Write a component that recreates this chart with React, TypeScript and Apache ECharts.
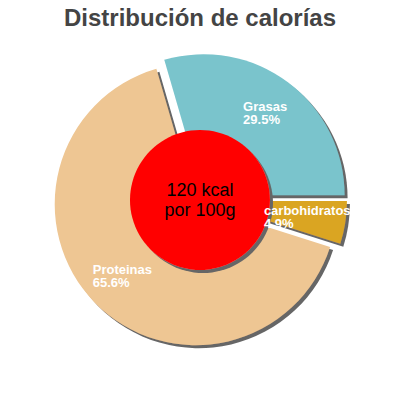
import { useEffect, useRef } from 'react';
import * as echarts from 'echarts';

const categories = ['Grasas', 'carbohidratos', 'Proteinas'];
const percents = [29.5, 4.9, 65.6];
const colors = ['#7ac4cc', '#daa520', '#eec693'];
const centerLines = ['120 kcal', 'por 100g'];

const FONT = 'Liberation Sans, Arial, Helvetica, sans-serif';
const START = (percents[0] / 100) * 360;
const CX = 200;
const CY = 200;

export default function App() {
  const chartRef = useRef(null);

  useEffect(() => {
    if (!chartRef.current) return;
    document.body.style.margin = '0';
    const chart = echarts.init(chartRef.current, null, { renderer: 'svg' });

    const shadow = {
      shadowColor: '#666',
      shadowOffsetX: 3,
      shadowOffsetY: 3,
      shadowBlur: 0
    };

    const labelText = {
      color: '#fff',
      fontFamily: FONT,
      fontSize: 13,
      fontWeight: 'bold',
      lineHeight: 13,
      align: 'left'
    };

    chart.setOption({
      animation: false,
      title: {
        text: 'Distribución de calorías',
        left: 'center',
        top: 0,
        textStyle: { fontFamily: FONT, fontSize: 24, fontWeight: 'bold', color: '#444' }
      },
      series: [
        {
          type: 'pie',
          center: [CX, CY],
          radius: [0, 141],
          z: 2,
          startAngle: START,
          clockwise: true,
          selectedMode: 'multiple',
          selectedOffset: 6,
          emphasis: { disabled: true },
          itemStyle: shadow,
          label: { show: false },
          labelLine: { show: false },
          data: categories.map((name, i) => ({
            name,
            value: percents[i],
            selected: true,
            itemStyle: { color: colors[i] }
          }))
        },
        {
          type: 'pie',
          center: [CX, CY],
          radius: [0, 70],
          silent: true,
          z: 3,
          itemStyle: { color: '#ff0000', ...shadow },
          label: {
            show: true,
            position: 'center',
            formatter: centerLines.join('\n'),
            color: '#000',
            fontFamily: FONT,
            fontSize: 18,
            lineHeight: 20
          },
          labelLine: { show: false },
          data: [{ name: 'kcal', value: 1 }]
        },
        {
          // transparent copy of the ring, only there to place the slice labels
          type: 'pie',
          center: [CX, CY],
          radius: [70, 141],
          silent: true,
          z: 5,
          startAngle: START,
          clockwise: true,
          selectedMode: false,
          emphasis: { disabled: true },
          itemStyle: { color: 'transparent', borderWidth: 0 },
          label: {
            show: true,
            position: 'inside',
            overflow: 'none',
            formatter: '{n|{b}}\n{n|{c}%}',
            rich: { n: labelText }
          },
          labelLine: { show: false },
          data: categories.map((name, i) => ({ name, value: percents[i] }))
        }
      ]
    });

    return () => {
      chart.dispose();
    };
  }, []);

  return <div ref={chartRef} style={{ width: '400px', height: '400px' }} />;
}
